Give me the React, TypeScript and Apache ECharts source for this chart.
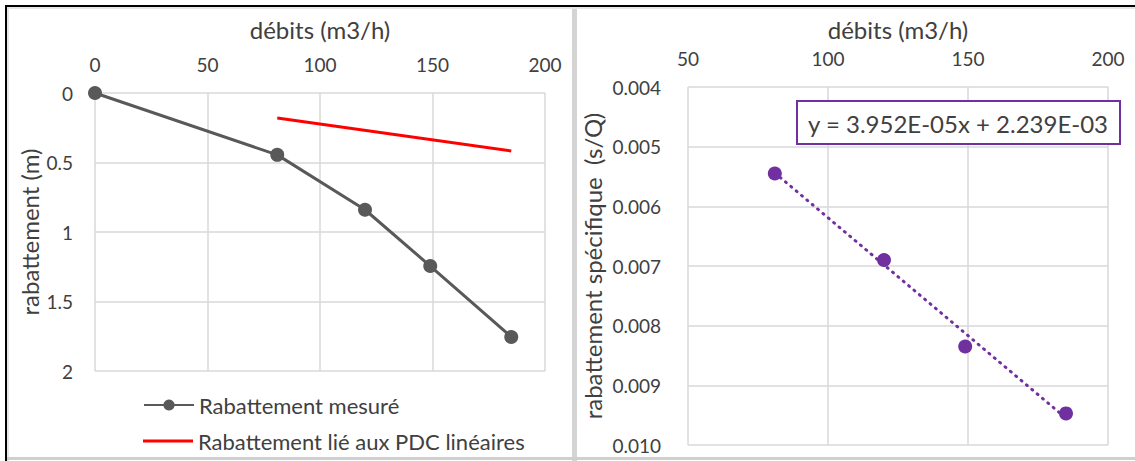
import React, { useEffect, useRef } from "react";
import * as echarts from "echarts";

// ---- Data ----
const debitsMesure = [0, 81, 120, 149, 185];
const rabattementMesure = [0, 0.445, 0.84, 1.245, 1.755];
const debitsPdc = [81, 185];
const rabattementPdc = [0.18, 0.417];
const debitsSpecifique = [81, 120, 149, 185];
const rabattementSpecifique = [0.00545, 0.0069, 0.00835, 0.00947];
const trendSlope = 3.952e-5;
const trendIntercept = 2.239e-3;
const trendLabel = "y = 3.952E-05x + 2.239E-03";
const seriesNames = ["Rabattement mesuré", "Rabattement lié aux PDC linéaires"];
const leftXTicks = { min: 0, max: 200, interval: 50 };
const leftYTicks = { min: 0, max: 2, interval: 0.5 };
const rightXTicks = { min: 50, max: 200, interval: 50 };
const rightYTicks = { min: 0.004, max: 0.01, interval: 0.001 };

const FONT = "Lato, 'Noto Sans', sans-serif";
const TXT = "#404040";
const GRID = "#d9d9d9";

export default function App() {
  const ref = useRef<HTMLDivElement>(null);
  useEffect(() => {
    document.body.style.margin = "0";
    const chart = echarts.init(ref.current!, null, { renderer: "svg" });
    const pairs = (xs: number[], ys: number[]) => xs.map((x, i) => [x, ys[i]]);
    const trendData = [debitsSpecifique[0], debitsSpecifique[debitsSpecifique.length - 1]].map(
      (x) => [x, trendSlope * x + trendIntercept]
    );
    const axisCommon = {
      axisLine: { show: false },
      axisTick: { show: false },
      splitLine: { show: true, lineStyle: { color: GRID, width: 1.5 } },
      nameLocation: "middle" as const,
      nameTextStyle: { fontFamily: FONT, fontSize: 24, color: TXT },
    };
    const labelStyle = { fontFamily: FONT, fontSize: 19, color: TXT };
    const legendText = { fontFamily: FONT, fontSize: 22, color: TXT, lineHeight: 22 };
    chart.setOption({
      animation: false,
      backgroundColor: "#ffffff",
      textStyle: { fontFamily: FONT },
      grid: [
        { left: 95, top: 93, width: 450, height: 278 },
        { left: 688, top: 87, width: 420, height: 358 },
      ],
      xAxis: [
        {
          ...axisCommon,
          type: "value",
          gridIndex: 0,
          position: "top",
          ...leftXTicks,
          name: "débits (m3/h)",
          nameGap: 52,
          axisLabel: { ...labelStyle, margin: 19 },
        },
        {
          ...axisCommon,
          type: "value",
          gridIndex: 1,
          position: "top",
          ...rightXTicks,
          name: "débits (m3/h)",
          nameGap: 46,
          axisLabel: { ...labelStyle, margin: 19 },
        },
      ],
      yAxis: [
        {
          ...axisCommon,
          type: "value",
          gridIndex: 0,
          inverse: true,
          ...leftYTicks,
          name: "rabattement (m)",
          nameGap: 54,
          axisLabel: { ...labelStyle, margin: 22 },
        },
        {
          ...axisCommon,
          type: "value",
          gridIndex: 1,
          inverse: true,
          ...rightYTicks,
          name: "rabattement spécifique  (s/Q)",
          nameGap: 84,
          axisLabel: { ...labelStyle, margin: 27, formatter: (v: number) => v.toFixed(3) },
        },
      ],
      legend: [
        {
          data: [seriesNames[0]],
          left: 138,
          top: 389,
          itemWidth: 50,
          itemHeight: 14,
          textStyle: legendText,
        },
        {
          data: [{ name: seriesNames[1], icon: "rect" }],
          left: 138,
          top: 425,
          itemWidth: 50,
          itemHeight: 3,
          textStyle: legendText,
        },
      ],
      series: [
        {
          name: seriesNames[0],
          type: "line",
          xAxisIndex: 0,
          yAxisIndex: 0,
          data: pairs(debitsMesure, rabattementMesure),
          symbol: "circle",
          symbolSize: 14,
          itemStyle: { color: "#595959" },
          lineStyle: { color: "#595959", width: 3 },
        },
        {
          name: seriesNames[1],
          type: "line",
          xAxisIndex: 0,
          yAxisIndex: 0,
          data: pairs(debitsPdc, rabattementPdc),
          symbol: "none",
          itemStyle: { color: "#ff0000" },
          lineStyle: { color: "#ff0000", width: 3 },
        },
        {
          name: "tendance",
          type: "line",
          xAxisIndex: 1,
          yAxisIndex: 1,
          data: trendData,
          symbol: "none",
          lineStyle: { color: "#7030a0", width: 3, type: [1, 6], cap: "round" },
        },
        {
          name: "spécifique",
          type: "scatter",
          xAxisIndex: 1,
          yAxisIndex: 1,
          data: pairs(debitsSpecifique, rabattementSpecifique),
          symbolSize: 14,
          itemStyle: { color: "#7030a0", opacity: 1 },
        },
      ],
      graphic: [
        { type: "rect", shape: { x: 5, y: 5, width: 1130, height: 2 }, style: { fill: "#000" } },
        { type: "rect", shape: { x: 5, y: 5, width: 2, height: 456 }, style: { fill: "#000" } },
        { type: "rect", shape: { x: 7, y: 7, width: 1128, height: 2 }, style: { fill: "#e6e6e6" } },
        { type: "rect", shape: { x: 7, y: 7, width: 2, height: 454 }, style: { fill: "#e6e6e6" } },
        { type: "rect", shape: { x: 572, y: 9, width: 5, height: 452 }, style: { fill: "#d4d4d4" } },
        { type: "rect", shape: { x: 7, y: 457, width: 1128, height: 3 }, style: { fill: "#cfcfcf" } },
        {
          type: "rect",
          shape: { x: 797, y: 101, width: 323, height: 43 },
          style: { fill: "#ffffff", stroke: "#7030a0", lineWidth: 2 },
          z: 10,
        },
        {
          type: "text",
          x: 958,
          y: 123,
          z: 11,
          style: {
            text: trendLabel,
            fontFamily: FONT,
            fontSize: 24,
            fill: TXT,
            align: "center",
            verticalAlign: "middle",
          },
        },
      ],
    });
    return () => chart.dispose();
  }, []);
  return <div ref={ref} style={{ width: 1135, height: 461 }} />;
}
